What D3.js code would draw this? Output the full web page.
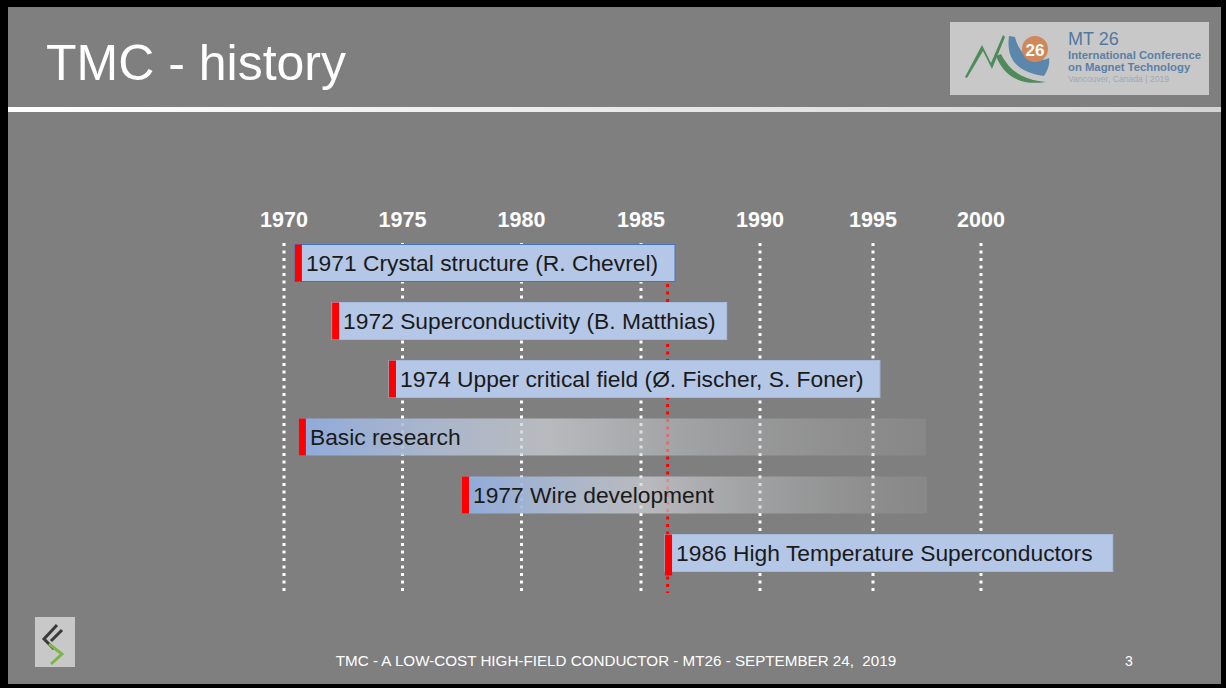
<!DOCTYPE html>
<html>
<head>
<meta charset="utf-8">
<script src="https://cdn.jsdelivr.net/npm/d3@7"></script>
<style>
  body { margin: 0; background: #000; }
  svg { display: block; font-family: "Liberation Sans", Arial, sans-serif; }
</style>
</head>
<body>
<svg id="slide" width="1226" height="688"></svg>
<script>
// tick years along the top
const tickYears = [1970, 1975, 1980, 1985, 1990, 1995, 2000];

// timeline rows
const eventLabels = [
  "1971 Crystal structure (R. Chevrel)",
  "1972 Superconductivity (B. Matthias)",
  "1974 Upper critical field (Ø. Fischer, S. Foner)",
  "Basic research",
  "1977 Wire development",
  "1986 High Temperature Superconductors"
];
const eventStarts = [1970.46, 1972.03, 1974.43, 1970.63, 1977.5, 1986.01];
const eventEnds = [1986.43, 1988.6, 1995.32, 1997.45, 1997.5, 2006.1];
const eventKinds = ["event", "event", "event", "phase", "phase", "event"];
const htsYear = 1986.12;

const svg = d3.select("#slide");

// slide background + frame
svg.append("rect").attr("width", 1226).attr("height", 688).attr("fill", "#000");
svg.append("rect").attr("x", 8).attr("y", 7).attr("width", 1213).attr("height", 677).attr("fill", "#7f7f7f");

const defs = svg.append("defs");
const sep = defs.append("linearGradient").attr("id", "sep");
sep.append("stop").attr("offset", "0%").attr("stop-color", "#ffffff");
sep.append("stop").attr("offset", "100%").attr("stop-color", "#d4d4d4");

const phase = defs.append("linearGradient").attr("id", "phase");
phase.append("stop").attr("offset", "0%").attr("stop-color", "#8eaadb").attr("stop-opacity", 1);
phase.append("stop").attr("offset", "40%").attr("stop-color", "#d0d3d8").attr("stop-opacity", 0.7);
phase.append("stop").attr("offset", "100%").attr("stop-color", "#a8a8a8").attr("stop-opacity", 0.2);

// title
svg.append("text").attr("x", 46).attr("y", 80)
  .attr("fill", "#fff").attr("font-size", 50)
  .text("TMC - history");
svg.append("rect").attr("x", 8).attr("y", 107).attr("width", 1213).attr("height", 5).attr("fill", "url(#sep)");

// MT26 logo box
const logo = svg.append("g");
logo.append("rect").attr("x", 950).attr("y", 22).attr("width", 259).attr("height", 73).attr("fill", "#c8c8c8");
logo.append("path").attr("d", "M1009,36 C1006,58 1016,72 1044,76 C1048,70 1050,64 1049,58 C1036,64 1020,58 1015,37 Z")
  .attr("fill", "#5b87ad");
logo.append("path").attr("d", "M965,77 L982,45 L991,63 L1003,35 L1005,37 L992,69 L983,51 L967,78 Z")
  .attr("fill", "#4e8a5a");
logo.append("path").attr("d", "M996,56 C1004,76 1020,86 1046,82 C1024,80 1010,72 1001,54 Z").attr("fill", "#4e8a5a");
logo.append("circle").attr("cx", 1035).attr("cy", 49).attr("r", 13).attr("fill", "#d0875a");
logo.append("text").attr("x", 1035).attr("y", 56).attr("text-anchor", "middle")
  .attr("fill", "#fff").attr("font-weight", "bold").attr("font-size", 17).text("26");
logo.append("text").attr("x", 1068).attr("y", 45).attr("fill", "#52799f")
  .attr("font-size", 18).text("MT 26");
logo.append("text").attr("x", 1068).attr("y", 59).attr("fill", "#5a80a6")
  .attr("font-size", 11.3).attr("font-weight", "bold").text("International Conference");
logo.append("text").attr("x", 1068).attr("y", 71).attr("fill", "#5a80a6")
  .attr("font-size", 11.3).attr("font-weight", "bold").text("on Magnet Technology");
logo.append("text").attr("x", 1068).attr("y", 82).attr("fill", "#9aaabb")
  .attr("font-size", 8.6).text("Vancouver, Canada | 2019");

// scales
const x = d3.scaleLinear()
  .domain(tickYears)
  .range([284, 402.5, 521.5, 641, 760, 873, 981]);
const y = d3.scalePoint()
  .domain(eventLabels)
  .range([263, 553]);
const barH = 37;

// year labels
svg.append("g").selectAll("text")
  .data(tickYears)
  .join("text")
  .attr("x", (d) => x(d))
  .attr("y", 227)
  .attr("text-anchor", "middle")
  .attr("fill", "#fff")
  .attr("font-weight", "bold")
  .attr("font-size", 21.5)
  .text((d) => d);

// dotted grid lines
svg.append("g").selectAll("line")
  .data(tickYears)
  .join("line")
  .attr("x1", (d) => x(d))
  .attr("x2", (d) => x(d))
  .attr("y1", 243)
  .attr("y2", 591)
  .attr("stroke", "#fff")
  .attr("stroke-width", 3)
  .attr("stroke-dasharray", "3 4.5");

// HTS marker line
svg.append("line")
  .attr("x1", x(htsYear)).attr("x2", x(htsYear))
  .attr("y1", 284).attr("y2", 593)
  .attr("stroke", "#ff0000")
  .attr("stroke-width", 3)
  .attr("stroke-dasharray", "3 4.5");

const rows = eventLabels.map((label, i) => ({
  label, start: eventStarts[i], end: eventEnds[i], kind: eventKinds[i]
}));

const row = svg.append("g").selectAll("g")
  .data(rows)
  .join("g");

row.append("rect")
  .attr("x", (d) => x(d.start))
  .attr("y", (d) => y(d.label) - barH / 2)
  .attr("width", (d) => x(d.end) - x(d.start))
  .attr("height", barH)
  .attr("fill", (d) => d.kind === "phase" ? "url(#phase)" : "#b4c7e7")
  .attr("stroke", (d, i) => d.kind === "phase" ? "none" : (i === 0 ? "#4472c4" : "#a6badd"))
  .attr("stroke-width", 1);

row.append("rect")
  .attr("x", (d) => x(d.start))
  .attr("y", (d) => y(d.label) - barH / 2)
  .attr("width", 7)
  .attr("height", (d, i) => i === 5 ? barH + 4 : barH)
  .attr("fill", "#ff0000");

row.append("text")
  .attr("x", (d) => x(d.start) + 11)
  .attr("y", (d) => y(d.label) + 8)
  .attr("fill", "#1a1a1a")
  .attr("font-size", 22.8)
  .text((d) => d.label);

// footer
const foot = svg.append("g");
foot.append("rect").attr("x", 35).attr("y", 617).attr("width", 40).attr("height", 50).attr("fill", "#c8c8c8");
foot.append("path").attr("d", "M57,625 L44,639 L54,649").attr("fill", "none").attr("stroke", "#3a3a3a").attr("stroke-width", 3);
foot.append("path").attr("d", "M62,630 L51,641").attr("fill", "none").attr("stroke", "#3a3a3a").attr("stroke-width", 3);
foot.append("path").attr("d", "M49,644 L62,654 L51,664").attr("fill", "none").attr("stroke", "#7ab648").attr("stroke-width", 3);
foot.append("text").attr("x", 616).attr("y", 666).attr("text-anchor", "middle")
  .attr("fill", "#fff").attr("font-size", 15.2)
  .text("TMC - A LOW-COST HIGH-FIELD CONDUCTOR - MT26 - SEPTEMBER 24,  2019")
  .style("white-space", "pre");
foot.append("text").attr("x", 1129).attr("y", 666).attr("text-anchor", "middle")
  .attr("fill", "#fff").attr("font-size", 14).text("3");
</script>
</body>
</html>
